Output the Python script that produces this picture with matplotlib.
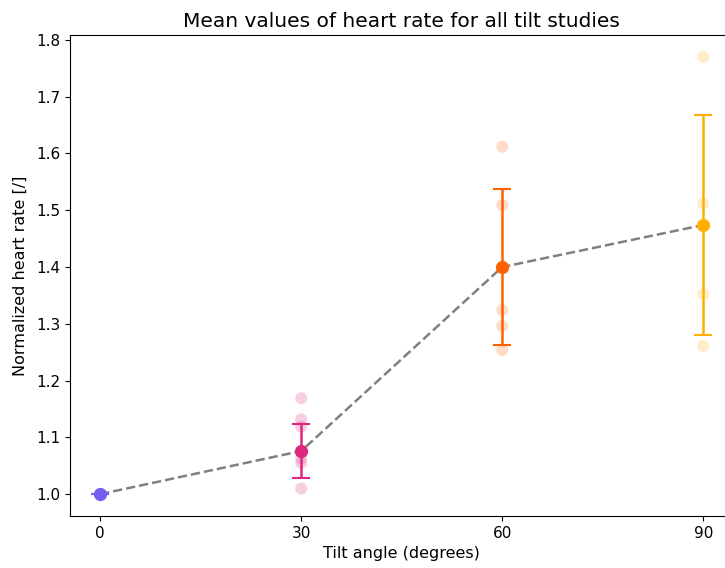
import matplotlib
matplotlib.use("Agg")
import matplotlib.pyplot as plt
import numpy as np

# tilt angles and colours per angle
angles = [0, 30, 60, 90]
colors = ["#785EF0", "#DC267F", "#FE6100", "#FFB000"]

# normalized heart rate per study, grouped by angle
hr_0 = [1.0]
hr_30 = [1.169, 1.132, 1.119, 1.063, 1.055, 1.010]
hr_60 = [1.612, 1.509, 1.324, 1.296, 1.254]
hr_90 = [1.770, 1.512, 1.352, 1.261]

# mean and standard deviation per angle
hr_mean = [1.0, 1.076, 1.400, 1.474]
hr_std = [0.0, 0.047, 0.137, 0.193]

fig = plt.figure(figsize=(7.25, 5.68), dpi=100)
ax = fig.add_axes([0.0966, 0.0915, 0.915, 0.8468])

ax.plot(angles, hr_mean, "--", color="gray", linewidth=1.8, zorder=2)

for x, vals, m, s, c in zip(angles, [hr_0, hr_30, hr_60, hr_90], hr_mean, hr_std, colors):
    ax.scatter([x] * len(vals), vals, s=75, color=c, alpha=0.22, edgecolors="none", zorder=1)
    ax.errorbar(x, m, yerr=s, fmt="o", color=c, markersize=8.5, capsize=6.5,
                elinewidth=1.8, capthick=1.5, zorder=3)

ax.set_xticks(angles)
ax.set_xlim(-4.5, 94.5)
ax.set_yticks(np.arange(1.0, 1.81, 0.1))
ax.set_ylim(0.9615, 1.8085)
ax.tick_params(labelsize=11)
ax.set_xlabel("Tilt angle (degrees)", fontsize=11.5)
ax.set_ylabel("Normalized heart rate [/]", fontsize=11.5, labelpad=6)
ax.set_title("Mean values of heart rate for all tilt studies", fontsize=14.5)

fig.savefig("out.png", dpi=100)
